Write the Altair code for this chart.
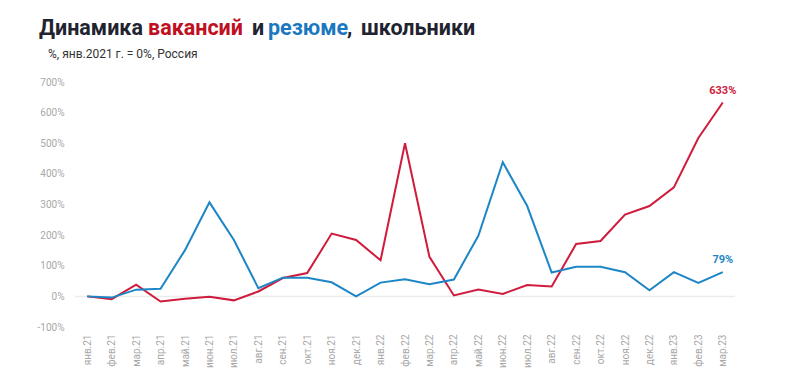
import altair as alt
import pandas as pd

months = ["янв.21","фев.21","мар.21","апр.21","май.21","июн.21","июл.21","авг.21","сен.21","окт.21","ноя.21","дек.21",
          "янв.22","фев.22","мар.22","апр.22","май.22","июн.22","июл.22","авг.22","сен.22","окт.22","ноя.22","дек.22",
          "янв.23","фев.23","мар.23"]
vacancies = [0, -9, 38, -17, -8, -1, -13, 16, 60, 76, 205, 184,
             118, 500, 129, 3, 22, 8, 37, 32, 171, 181, 267, 295,
             356, 517, 633]
resumes = [0, -4, 22, 25, 151, 307, 184, 27, 61, 61, 46, 0,
           45, 56, 40, 55, 198, 438, 295, 78, 97, 97, 79, 20,
           79, 44, 79]
series_names = ["вакансии", "резюме"]
series_colors = ["#cf1b3c", "#1d86c6"]
title_parts = ["Динамика", "вакансий", "и", "резюме", ",", "школьники"]
subtitle = "%, янв.2021 г. = 0%, Россия"
y_ticks = [-100, 0, 100, 200, 300, 400, 500, 600, 700]

rows = []
for m, v in zip(months, vacancies):
    rows.append({"month": m, "value": v, "series": series_names[0]})
for m, r in zip(months, resumes):
    rows.append({"month": m, "value": r, "series": series_names[1]})
df = pd.DataFrame(rows)
last = df[df["month"] == months[-1]].copy()
last["label"] = last["value"].astype(int).astype(str) + "%"

FONT = "Roboto"
W, H = 660, 245

x_axis = alt.Axis(title=None, labelAngle=270, labelColor="#a8a8a8", labelFontSize=10,
                  labelFont=FONT, domain=False, ticks=False, labelPadding=7, grid=False,
                  labelOverlap=False)
x = alt.X("month:O", sort=months, scale=alt.Scale(type="point", padding=0.5), axis=x_axis)
y_axis = alt.Axis(title=None, values=y_ticks, labelExpr="datum.value + '%'", labelColor="#a8a8a8",
                  labelFontSize=10, labelFont=FONT, domain=False, ticks=False, grid=False,
                  labelPadding=11, labelOverlap=False)
y_scale = alt.Scale(domain=[-100, 700], nice=False, zero=False)
y = alt.Y("value:Q", scale=y_scale, axis=y_axis)
color = alt.Color("series:N", scale=alt.Scale(domain=series_names, range=series_colors), legend=None)

zero = alt.Chart(pd.DataFrame({"value": [0]})).mark_rule(color="#ececec", strokeWidth=1.5).encode(
    y=alt.Y("value:Q", scale=y_scale, axis=y_axis))

lines = alt.Chart(df).mark_line(strokeWidth=2).encode(x=x, y=y, color=color)

end_labels = alt.Chart(last).mark_text(fontWeight="bold", fontSize=11, font=FONT, dy=-12).encode(
    x=x, y=y, text="label:N", color=color)

title_y = -47
title_specs = [
    (title_parts[0], -36, "#1f2430"),
    (title_parts[1], 73, "#c0101f"),
    (title_parts[2], 177, "#1f2430"),
    (title_parts[3], 193, "#1a78bf"),
    (title_parts[4], 272, "#1f2430"),
    (title_parts[5], 286, "#1f2430"),
]
title_layers = []
for txt, px, col in title_specs:
    title_layers.append(
        alt.Chart(pd.DataFrame({"t": [txt]})).mark_text(
            align="left", baseline="alphabetic", fontSize=21.5, fontWeight="bold", font=FONT, color=col
        ).encode(x=alt.value(px), y=alt.value(title_y), text="t:N")
    )
sub = alt.Chart(pd.DataFrame({"t": [subtitle]})).mark_text(
    align="left", baseline="alphabetic", fontSize=12, font=FONT, color="#333333"
).encode(x=alt.value(-27), y=alt.value(-24), text="t:N")

chart = alt.layer(zero, lines, end_labels, *title_layers, sub).properties(
    width=W, height=H,
    autosize=alt.AutoSizeParams(type="none"),
    padding={"left": 67, "top": 74, "right": 52, "bottom": 55},
    background="white",
).configure_view(stroke=None)

chart.save("out.html", embed_options={"renderer": "svg", "actions": False})
